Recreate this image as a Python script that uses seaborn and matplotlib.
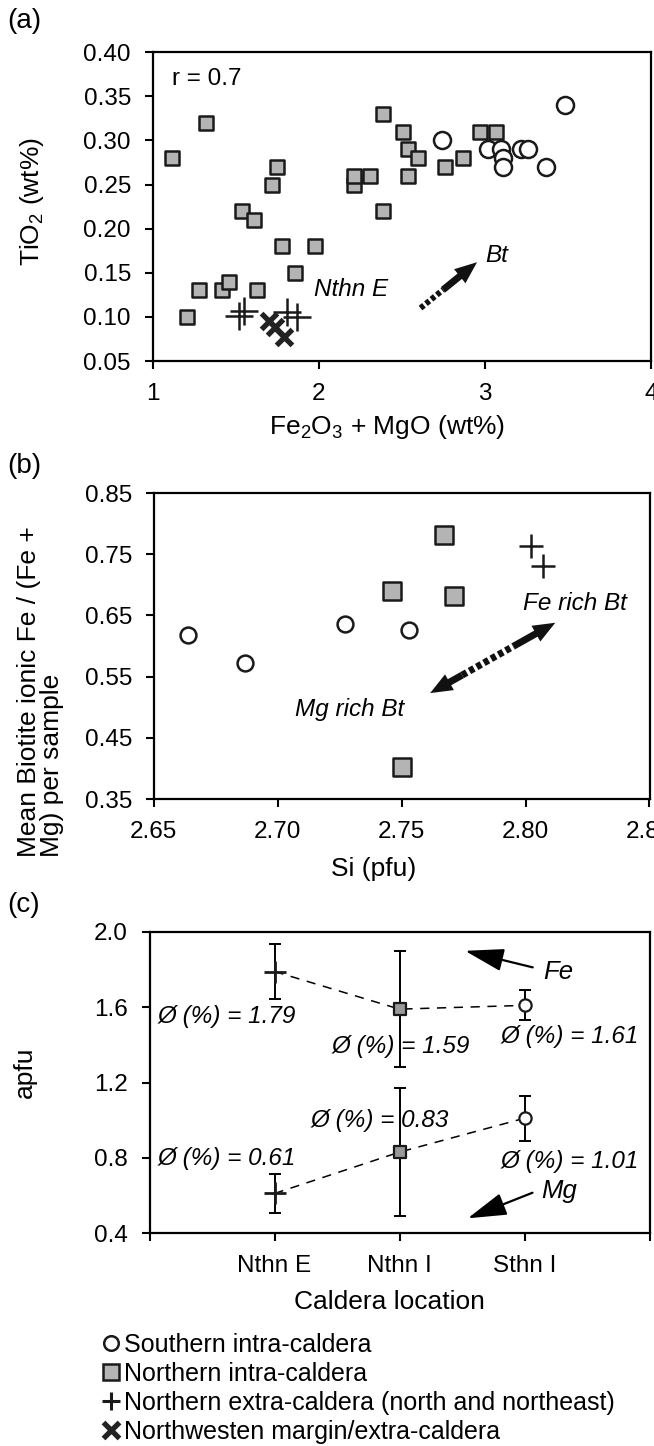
import numpy as np
import pandas as pd
import matplotlib.pyplot as plt
from matplotlib.lines import Line2D
from matplotlib.ticker import FormatStrFormatter
import seaborn as sns

sns.set_style('ticks')
plt.rcParams['font.family'] = ['Liberation Sans', 'DejaVu Sans']
plt.rcParams['mathtext.fontset'] = 'custom'
plt.rcParams['mathtext.rm'] = 'Liberation Sans'
plt.rcParams['mathtext.it'] = 'Liberation Sans:italic'
plt.rcParams['axes.edgecolor'] = 'black'
plt.rcParams['axes.linewidth'] = 1.5
for k in ['xtick.color', 'ytick.color', 'text.color', 'axes.labelcolor']:
    plt.rcParams[k] = 'black'

# ---- (a) TiO2 vs Fe2O3 + MgO (wt%)
a_sth_intra_x = [2.74, 3.48, 3.02, 3.10, 3.11, 3.11, 3.22, 3.26, 3.37]
a_sth_intra_y = [0.30, 0.34, 0.29, 0.29, 0.28, 0.27, 0.29, 0.29, 0.27]
a_nth_intra_x = [1.12, 1.32, 1.75, 1.72, 1.54, 1.61, 1.78, 1.98, 1.86, 1.28, 1.42, 1.46, 1.63, 1.21,
                 2.21, 2.21, 2.31, 2.39, 2.39, 2.51, 2.54, 2.60, 2.54, 2.76, 2.87, 2.97, 3.07]
a_nth_intra_y = [0.28, 0.32, 0.27, 0.25, 0.22, 0.21, 0.18, 0.18, 0.15, 0.13, 0.13, 0.14, 0.13, 0.10,
                 0.25, 0.26, 0.26, 0.33, 0.22, 0.31, 0.29, 0.28, 0.26, 0.27, 0.28, 0.31, 0.31]
a_nth_extra_x = [1.52, 1.55, 1.81, 1.87]
a_nth_extra_y = [0.101, 0.107, 0.106, 0.100]
a_nw_margin_x = [1.70, 1.74, 1.79]
a_nw_margin_y = [0.095, 0.088, 0.077]

# ---- (b) mean biotite Fe/(Fe+Mg) vs Si
b_sth_intra_x = [2.664, 2.687, 2.727, 2.753]
b_sth_intra_y = [0.618, 0.573, 0.636, 0.626]
b_nth_intra_x = [2.767, 2.746, 2.771, 2.750]
b_nth_intra_y = [0.781, 0.690, 0.682, 0.402]
b_nth_extra_x = [2.802, 2.807]
b_nth_extra_y = [0.763, 0.731]

# ---- (c) mean apfu per caldera location
c_locations = ['Nthn E', 'Nthn I', 'Sthn I']
c_fe_mean = [1.79, 1.59, 1.61]
c_fe_sd = [0.145, 0.31, 0.08]
c_mg_mean = [0.61, 0.83, 1.01]
c_mg_sd = [0.105, 0.34, 0.12]

legend_labels = ['Southern intra-caldera', 'Northern intra-caldera',
                 'Northern extra-caldera (north and northeast)',
                 'Northwesten margin/extra-caldera']

GREY = '#b4b4b4'
EDGE = '#1a1a1a'
TICK_FS = 17.5
LAB_FS = 19
ANN_FS = 17.5

fig = plt.figure(figsize=(6.54, 14.46), dpi=100)
W, H = 654.0, 1446.0


def make_ax(left, right, top, bottom):
    return fig.add_axes([left / W, 1 - bottom / H, (right - left) / W, (bottom - top) / H])


def style(ax):
    for sp in ax.spines.values():
        sp.set_visible(True)
        sp.set_linewidth(1.6)
        sp.set_color('black')
    ax.tick_params(direction='out', length=5.5, width=1.5, pad=10, labelsize=TICK_FS)


def scatter_groups(ax, sq, ci, pl, xm=None, s_sq=90, s_ci=150, s_pl=400, sq_fc=GREY):
    sns.scatterplot(x=sq[0], y=sq[1], marker='s', s=s_sq, color=sq_fc, edgecolor=EDGE,
                    linewidth=1.8, ax=ax, zorder=3)
    sns.scatterplot(x=ci[0], y=ci[1], marker='o', s=s_ci, color='white', edgecolor=EDGE,
                    linewidth=1.8, ax=ax, zorder=4)
    sns.scatterplot(x=pl[0], y=pl[1], marker='+', s=s_pl, color=EDGE, linewidth=1.8,
                    ax=ax, zorder=5)
    if xm is not None:
        sns.scatterplot(x=xm[0], y=xm[1], marker='x', s=130, color='#222222', linewidth=3.8,
                        ax=ax, zorder=6)


def split_arrow(ax, tail, tip, frac_dash, lw=4.5, both=False, frac_lo=0.0):
    tail = np.array(tail); tip = np.array(tip)
    p_lo = tail + (tip - tail) * frac_lo
    p_hi = tail + (tip - tail) * frac_dash
    ax.plot([p_lo[0], p_hi[0]], [p_lo[1], p_hi[1]], color='#111111', lw=lw,
            linestyle=(0, (0.75, 0.45)), dash_capstyle='butt', zorder=2)
    aprops = dict(arrowstyle='simple,head_length=0.8,head_width=0.65,tail_width=0.25',
                  mutation_scale=20, color='#111111', lw=0, shrinkA=0, shrinkB=0)
    ax.annotate('', xy=tuple(tip), xytext=tuple(p_hi), arrowprops=aprops, zorder=2)
    if both:
        ax.annotate('', xy=tuple(tail), xytext=tuple(p_lo), arrowprops=aprops, zorder=2)


# ---------------- panel (a)
ax1 = make_ax(152.5, 651, 52.3, 361)
scatter_groups(ax1, (a_nth_intra_x, a_nth_intra_y), (a_sth_intra_x, a_sth_intra_y),
               (a_nth_extra_x, a_nth_extra_y), (a_nw_margin_x, a_nw_margin_y))
ax1.set_xlim(1, 4)
ax1.set_ylim(0.05, 0.40)
ax1.set_xticks([1, 2, 3, 4])
ax1.set_yticks(np.arange(0.05, 0.401, 0.05))
ax1.yaxis.set_major_formatter(FormatStrFormatter('%.2f'))
style(ax1)
ax1.set_xlabel('Fe$_2$O$_3$ + MgO (wt%)', fontsize=LAB_FS, va='center')
ax1.xaxis.set_label_coords(0.47, -0.215)
ax1.set_ylabel('TiO$_2$ (wt%)', fontsize=LAB_FS, va='center', ha='center')
ax1.yaxis.set_label_coords(-0.242, 0.515)
ax1.text(1.12, 0.37, 'r = 0.7', fontsize=ANN_FS, va='center', ha='left')
ax1.text(1.97, 0.131, 'Nthn E', fontsize=ANN_FS, style='italic', va='center', ha='left')
ax1.text(3.0, 0.170, 'Bt', fontsize=ANN_FS, style='italic', va='center', ha='left')
split_arrow(ax1, (2.613, 0.110), (2.953, 0.162), 0.40, lw=4.2)

# ---------------- panel (b)
ax2 = make_ax(153.7, 649.5, 493, 799)
scatter_groups(ax2, (b_nth_intra_x, b_nth_intra_y), (b_sth_intra_x, b_sth_intra_y),
               (b_nth_extra_x, b_nth_extra_y), s_sq=160, s_ci=130, s_pl=300)
ax2.set_xlim(2.65, 2.85)
ax2.set_ylim(0.35, 0.85)
ax2.set_xticks(np.arange(2.65, 2.851, 0.05))
ax2.set_yticks(np.arange(0.35, 0.851, 0.10))
ax2.xaxis.set_major_formatter(FormatStrFormatter('%.2f'))
ax2.yaxis.set_major_formatter(FormatStrFormatter('%.2f'))
style(ax2)
ax2.set_xlabel('Si (pfu)', fontsize=LAB_FS, va='center')
ax2.xaxis.set_label_coords(0.444, -0.229)
ax2.text(-0.229, -0.19, 'Mean Biotite ionic Fe / (Fe +\nMg) per sample', fontsize=LAB_FS,
         rotation=90, ha='center', va='bottom', multialignment='left', linespacing=0.95,
         transform=ax2.transAxes)
ax2.text(2.799, 0.669, 'Fe rich Bt', fontsize=ANN_FS, style='italic', va='center', ha='left')
ax2.text(2.707, 0.497, 'Mg rich Bt', fontsize=ANN_FS, style='italic', va='center', ha='left')
split_arrow(ax2, (2.7615, 0.523), (2.812, 0.638), 0.664, lw=5, both=True, frac_lo=0.256)

# ---------------- panel (c)
ax3 = make_ax(149.5, 649.5, 932, 1233)
c_pos = np.arange(1, len(c_locations) + 1)
c_df = pd.DataFrame({'location': c_locations * 2, 'pos': np.tile(c_pos, 2),
                     'element': ['Fe'] * 3 + ['Mg'] * 3,
                     'mean': c_fe_mean + c_mg_mean, 'sd': c_fe_sd + c_mg_sd})
dash = (0, (6, 5))
for el, g in c_df.groupby('element'):
    sns.lineplot(data=g, x='pos', y='mean', color='black', lw=1.1, linestyle=dash,
                 ax=ax3, zorder=2)
ax3.errorbar(c_df['pos'], c_df['mean'], yerr=c_df['sd'], fmt='none', ecolor='black',
             elinewidth=1.4, capsize=4.3, capthick=1.4, zorder=3)
loc_style = {'Nthn E': dict(marker='+', s=230, color=EDGE, linewidth=2.0),
             'Nthn I': dict(marker='s', s=64, color='#9a9a9a', edgecolor=EDGE, linewidth=1.6),
             'Sthn I': dict(marker='o', s=78, color='white', edgecolor=EDGE, linewidth=1.6)}
for loc in c_locations:
    sub = c_df[c_df['location'] == loc]
    sns.scatterplot(data=sub, x='pos', y='mean', ax=ax3, zorder=4, **loc_style[loc])
ax3.set_xlim(0, 4)
ax3.set_ylim(0.4, 2.0)
ax3.set_xticks([0] + list(c_pos) + [4])
ax3.set_xticklabels([''] + c_locations + [''])
ax3.set_yticks([0.4, 0.8, 1.2, 1.6, 2.0])
ax3.yaxis.set_major_formatter(FormatStrFormatter('%.1f'))
style(ax3)
ax3.set_xlabel('Caldera location', fontsize=LAB_FS, va='center')
ax3.xaxis.set_label_coords(0.479, -0.229)
ax3.set_ylabel('apfu', fontsize=LAB_FS, va='center', ha='center')
ax3.yaxis.set_label_coords(-0.249, 0.535)

# mean value labels
c_label_xy = [(0.067, 1.55), (1.46, 1.39), (2.807, 1.443),
              (0.067, 0.797), (1.293, 1.0), (2.807, 0.779)]
for (tx, ty), v in zip(c_label_xy, c_fe_mean + c_mg_mean):
    ax3.text(tx, ty, f'Ø (%) = {v:.2f}', fontsize=ANN_FS, style='italic',
             va='center', ha='left', zorder=5)
ax3.text(3.15, 1.787, 'Fe', fontsize=ANN_FS + 1, style='italic', va='center', ha='left')
ax3.text(3.13, 0.625, 'Mg', fontsize=ANN_FS + 1, style='italic', va='center', ha='left')
tri = dict(arrowstyle='-|>,head_length=1.2,head_width=0.35', mutation_scale=20,
           lw=1.6, color='black', shrinkA=0, shrinkB=0)
ax3.annotate('', xy=(2.524, 1.90), xytext=(3.066, 1.812), arrowprops=tri)
ax3.annotate('', xy=(2.546, 0.478), xytext=(3.064, 0.614), arrowprops=tri)

# ---------------- panel letters
for lab, yc in [('(a)', 20.7), ('(b)', 466), ('(c)', 905)]:
    fig.text(7 / W, 1 - yc / H, lab, fontsize=20, ha='left', va='center')

# ---------------- legend
handles = [
    Line2D([], [], ls='none', marker='o', ms=10.5, mfc='white', mec=EDGE, mew=1.8),
    Line2D([], [], ls='none', marker='s', ms=11.5, mfc=GREY, mec=EDGE, mew=1.8),
    Line2D([], [], ls='none', marker='+', ms=13, mec=EDGE, mew=2.2),
    Line2D([], [], ls='none', marker='x', ms=11, mec='#222222', mew=3.8),
]
fig.legend(handles, legend_labels, loc='upper left', bbox_to_anchor=(102 / W, 1 - 1333 / H),
           frameon=False, fontsize=18, borderpad=0, borderaxespad=0, handlelength=0.7,
           handletextpad=0.2, labelspacing=0.2)

fig.savefig('out.png', dpi=100)
